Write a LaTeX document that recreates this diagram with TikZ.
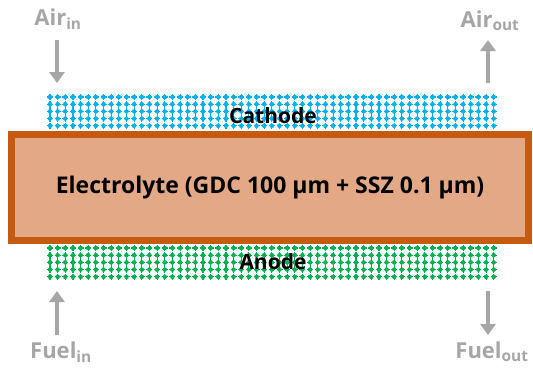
\documentclass[tikz,border=0pt]{standalone}
\usepackage{fontspec}
\setmainfont{Open Sans}
\usetikzlibrary{arrows.meta}
\definecolor{cblue}{HTML}{00B0F0}
\definecolor{agreen}{HTML}{00B050}
\definecolor{eborder}{HTML}{C55A11}
\definecolor{efill}{HTML}{E3A886}
\definecolor{lgray}{HTML}{A6A6A6}
\tikzset{
  flow/.style={draw=lgray, line width=3.5pt, -{Triangle[length=11pt,width=15pt]}},
  gaslabel/.style={text=lgray, font=\fontsize{22}{26}\selectfont\bfseries, inner sep=0pt},
  layerlabel/.style={text=black, font=\fontsize{21}{24}\selectfont\bfseries, inner sep=0pt},
}
\begin{document}
\begin{tikzpicture}[x=1pt,y=-1pt]
\useasboundingbox (0,0) rectangle (533,372);
% cathode dots
\foreach \r in {0,...,4}{
  \foreach \c in {0,...,58}{
    \fill[cblue] ({50+\c*7.65},{97+\r*7.2}) circle (2.3);
    \draw[cblue, line width=1.1pt] ({50+\c*7.65},{97+\r*7.2-3.3}) -- ({50+\c*7.65},{97+\r*7.2+3.3})
      ({50+\c*7.65-3},{97+\r*7.2}) -- ({50+\c*7.65+3},{97+\r*7.2});
  }
}
% anode dots
\foreach \r in {0,...,4}{
  \foreach \c in {0,...,58}{
    \fill[agreen] ({50+\c*7.65},{248+\r*7.2}) circle (2.3);
    \draw[agreen, line width=1.1pt] ({50+\c*7.65},{248+\r*7.2-3.3}) -- ({50+\c*7.65},{248+\r*7.2+3.3})
      ({50+\c*7.65-3},{248+\r*7.2}) -- ({50+\c*7.65+3},{248+\r*7.2});
  }
}
\node[layerlabel] (cathode) at (273,116) {Cathode};
\node[layerlabel] (anode) at (273,262) {Anode};
% electrolyte
\node[draw=eborder, fill=efill, line width=6.5pt, minimum width=517pt, minimum height=106pt, inner sep=0pt,
  font=\fontsize{23}{26}\selectfont\bfseries] (elec) at (270,187.5) {Electrolyte (GDC 100 μm + SSZ 0.1 μm)};
% gas labels
\node[gaslabel] (airin) at (58,19) {Air\textsubscript{in}};
\node[gaslabel] (airout) at (490,21) {Air\textsubscript{out}};
\node[gaslabel] (fuelin) at (61,352) {Fuel\textsubscript{in}};
\node[gaslabel] (fuelout) at (492,352) {Fuel\textsubscript{out}};
\coordinate (aintop) at (57,40);
\coordinate (ainbot) at (57,83);
\coordinate (aouttop) at (488,40);
\coordinate (aoutbot) at (488,83);
\coordinate (fintop) at (57,291);
\coordinate (finbot) at (57,335);
\coordinate (fouttop) at (488,291);
\coordinate (foutbot) at (488,335);
\draw[flow] (aintop) -- (ainbot);
\draw[flow] (aoutbot) -- (aouttop);
\draw[flow] (finbot) -- (fintop);
\draw[flow] (fouttop) -- (foutbot);
\end{tikzpicture}
\end{document}
